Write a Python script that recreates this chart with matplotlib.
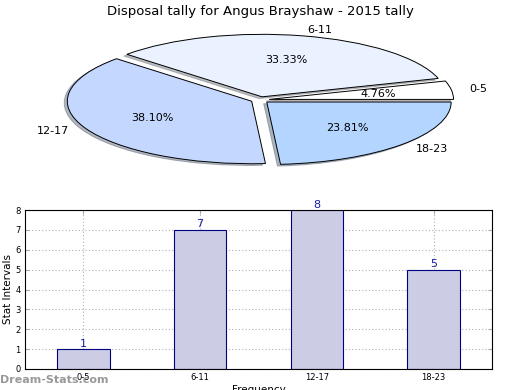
import matplotlib
matplotlib.use("Agg")
import matplotlib.pyplot as plt

# data
categories = ["0-5", "6-11", "12-17", "18-23"]
counts = [1, 7, 8, 5]
pie_colors = ["#ffffff", "#eaf1ff", "#c4d7ff", "#b3d5ff"]
explode = [0.05, 0.05, 0.05, 0.05]
yticks = [0, 1, 2, 3, 4, 5, 6, 7, 8]

fig = plt.figure(figsize=(5.2, 3.9), dpi=100)

# squashed pie on top
ax1 = fig.add_axes([0.0, 212 / 390, 1.0, 160 / 390])
wedges, texts, autotexts = ax1.pie(
    counts, labels=categories, colors=pie_colors, explode=explode,
    autopct="%.2f%%", shadow=dict(ox=-0.012, oy=-0.02, shade=0.5),
    startangle=0, counterclock=True,
    labeldistance=1.1, pctdistance=0.6,
    wedgeprops=dict(edgecolor="black", linewidth=0.7),
    textprops=dict(fontsize=8))
ax1.set_aspect("auto")
ax1.set_xlim(-1.41, 1.41)
ax1.set_ylim(-1.25, 1.31)
ax1.set_title("Disposal tally for Angus Brayshaw - 2015 tally", fontsize=9.5, pad=2)

# bar chart below
ax2 = fig.add_axes([25 / 520, 21 / 390, 467 / 520, 159 / 390])
x = list(range(len(categories)))
ax2.bar(x, counts, width=0.45, color="#ccccE5", edgecolor="navy", linewidth=0.8, zorder=2)
for i, c in enumerate(counts):
    ax2.text(i, c + 0.02, str(c), ha="center", va="bottom", color="#1a1aa6", fontsize=8)
ax2.set_xlim(-0.5, 3.5)
ax2.set_ylim(0, 8)
ax2.set_xticks(x)
ax2.set_xticklabels(categories)
ax2.set_yticks(yticks)
ax2.tick_params(labelsize=6, direction="in", top=True, right=True, length=3, pad=3,
                color="#aaaaaa")
ax2.grid(True, linestyle=(0, (1, 2)), color="#b0b0b0", linewidth=0.8, zorder=0)
ax2.set_axisbelow(True)
ax2.set_ylabel("Stat Intervals", fontsize=7.5, labelpad=2)
ax2.set_xlabel("Frequency", fontsize=7.5, labelpad=2)

fig.text(0.0, 10 / 390, "Dream-Stats.com", fontsize=8, fontweight="bold",
         color="#999999", va="center", ha="left")

fig.savefig("out.png", dpi=100)
